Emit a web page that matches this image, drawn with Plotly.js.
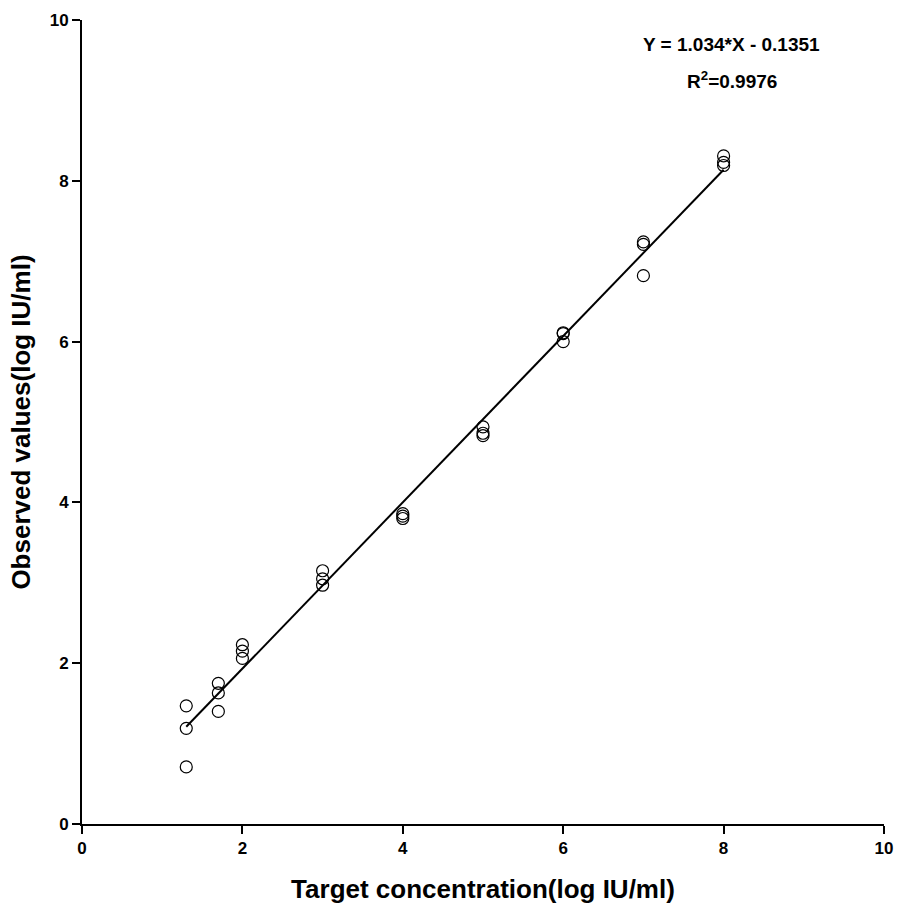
<!DOCTYPE html>
<html>
<head>
<meta charset="utf-8">
<script src="https://cdn.plot.ly/plotly-3.0.1.min.js"></script>
<style>html,body{margin:0;padding:0;background:#fff;}#chart{width:898px;height:915px;}</style>
</head>
<body>
<div id="chart"></div>
<script>
const targetX = [1.3,1.3,1.3, 1.7,1.7,1.7, 2,2,2, 3,3,3, 4,4,4, 5,5,5, 6,6,6, 7,7,7, 8,8,8];
const observedY = [1.47,1.19,0.71, 1.75,1.63,1.40, 2.23,2.15,2.06, 3.15,3.05,2.97, 3.86,3.80,3.83, 4.94,4.86,4.83, 6.11,6.10,6.00, 7.24,7.21,6.82, 8.31,8.23,8.19];
const slope = 1.034;
const intercept = -0.1351;
const fitX = [1.3, 8];
const fitY = fitX.map(x => slope * x + intercept);
const xTicks = [0,2,4,6,8,10];
const yTicks = [0,2,4,6,8,10];

const font = "Liberation Sans, Arial, sans-serif";
const data = [
  {x: fitX, y: fitY, mode: 'lines', line: {color: '#000', width: 2}, hoverinfo: 'skip'},
  {x: targetX, y: observedY, mode: 'markers',
   marker: {symbol: 'circle-open', size: 12, color: '#000', line: {width: 1.2, color: '#000'}}}
];
const layout = {
  width: 898, height: 915,
  margin: {l: 82, r: 14, t: 20, b: 91},
  showlegend: false,
  paper_bgcolor: '#fff', plot_bgcolor: '#fff',
  font: {family: font, color: '#000'},
  xaxis: {
    range: [0, 10], tickvals: xTicks, ticktext: xTicks.map(String),
    showgrid: false, zeroline: false, showline: true, linecolor: '#000', linewidth: 2,
    ticks: 'outside', ticklen: 8, tickwidth: 2, tickcolor: '#000',
    tickfont: {family: font, size: 17, color: '#000', weight: 'bold'},
    title: {text: '<b>Target concentration(log IU/ml)</b>', font: {family: font, size: 26, color: '#000'}, standoff: 22}
  },
  yaxis: {
    range: [0, 10], tickvals: yTicks, ticktext: yTicks.map(String),
    showgrid: false, zeroline: false, showline: true, linecolor: '#000', linewidth: 2,
    ticks: 'outside', ticklen: 8, tickwidth: 2, tickcolor: '#000',
    tickfont: {family: font, size: 17, color: '#000', weight: 'bold'},
    title: {text: '<b>Observed values(log IU/ml)</b>', font: {family: font, size: 26, color: '#000'}, standoff: 12}
  },
  annotations: [
    {xref: 'paper', yref: 'paper', x: 0.81, y: 0.969, xanchor: 'center', yanchor: 'middle', showarrow: false,
     text: '<b>Y = 1.034*X - 0.1351</b>', font: {family: font, size: 19, color: '#000'}},
    {xref: 'paper', yref: 'paper', x: 0.81, y: 0.925, xanchor: 'center', yanchor: 'middle', showarrow: false,
     text: '<b>R<sup>2</sup>=0.9976</b>', font: {family: font, size: 19, color: '#000'}}
  ]
};
Plotly.newPlot('chart', data, layout, {displayModeBar: false});
</script>
</body>
</html>
